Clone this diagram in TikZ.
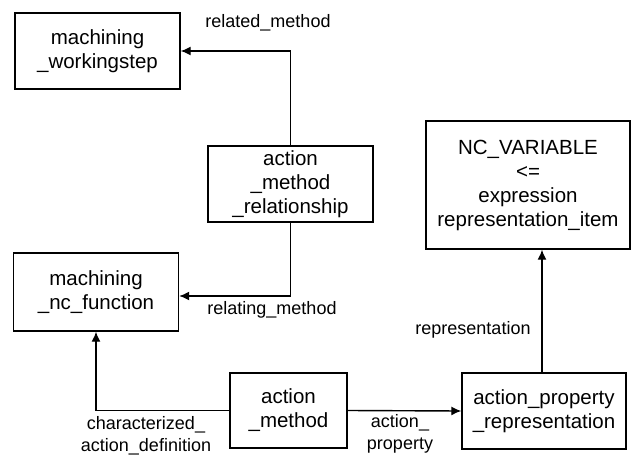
\documentclass[tikz,border=0pt]{standalone}
\usepackage{fontspec}
\setmainfont{Liberation Sans}
\usetikzlibrary{arrows.meta}
\begin{document}
\begin{tikzpicture}[x=1pt,y=-1pt,
  box/.style={draw,line width=1.4pt,rectangle,align=center,inner sep=0pt,
    font=\fontsize{20.5}{24}\selectfont},
  lbl/.style={align=center,inner sep=0pt,font=\fontsize{18}{22.5}\selectfont},
  conn/.style={line width=1.4pt,-{Latex[length=10pt,width=9pt]}}]
\useasboundingbox[fill=white] (0,0) rectangle (635,455);
\node[box,minimum width=165pt,minimum height=76pt] (ws) at (97.5,51) {machining\\\_workingstep};
\node[box,minimum width=165pt,minimum height=76pt] (amr) at (290.5,184) {action\\\_method\\\_relationship};
\node[box,minimum width=165pt,minimum height=78pt] (ncf) at (96,292) {machining\\\_nc\_function};
\node[box,minimum width=117pt,minimum height=75pt] (am) at (288.5,410.5) {action\\\_method};
\node[box,minimum width=164pt,minimum height=76pt] (apr) at (544,411) {action\_property\\\_representation};
\node[box,minimum width=204pt,minimum height=128pt] (ncv) at (528,185) {NC\_VARIABLE\\{<=}\\expression\\representation\_item};
\draw[conn] (amr.north) |- (ws.east);
\draw[conn] (amr.south) |- ([yshift=-4pt]ncf.east);
\draw[conn] (am.west) -| (ncf.south);
\draw[conn] (am.east) -- (apr.west);
\draw[conn] ([xshift=-2pt]apr.north) -- ([xshift=-2pt]apr.north |- ncv.south);
\node[lbl] (l1) at (268,23) {related\_method};
\node[lbl] (l2) at (272,310) {relating\_method};
\node[lbl] (l3) at (146,436) {characterized\_\\action\_definition};
\node[lbl] (l4) at (400,434) {action\_\\property};
\node[lbl] (l5) at (473,330) {representation};
\end{tikzpicture}
\end{document}
